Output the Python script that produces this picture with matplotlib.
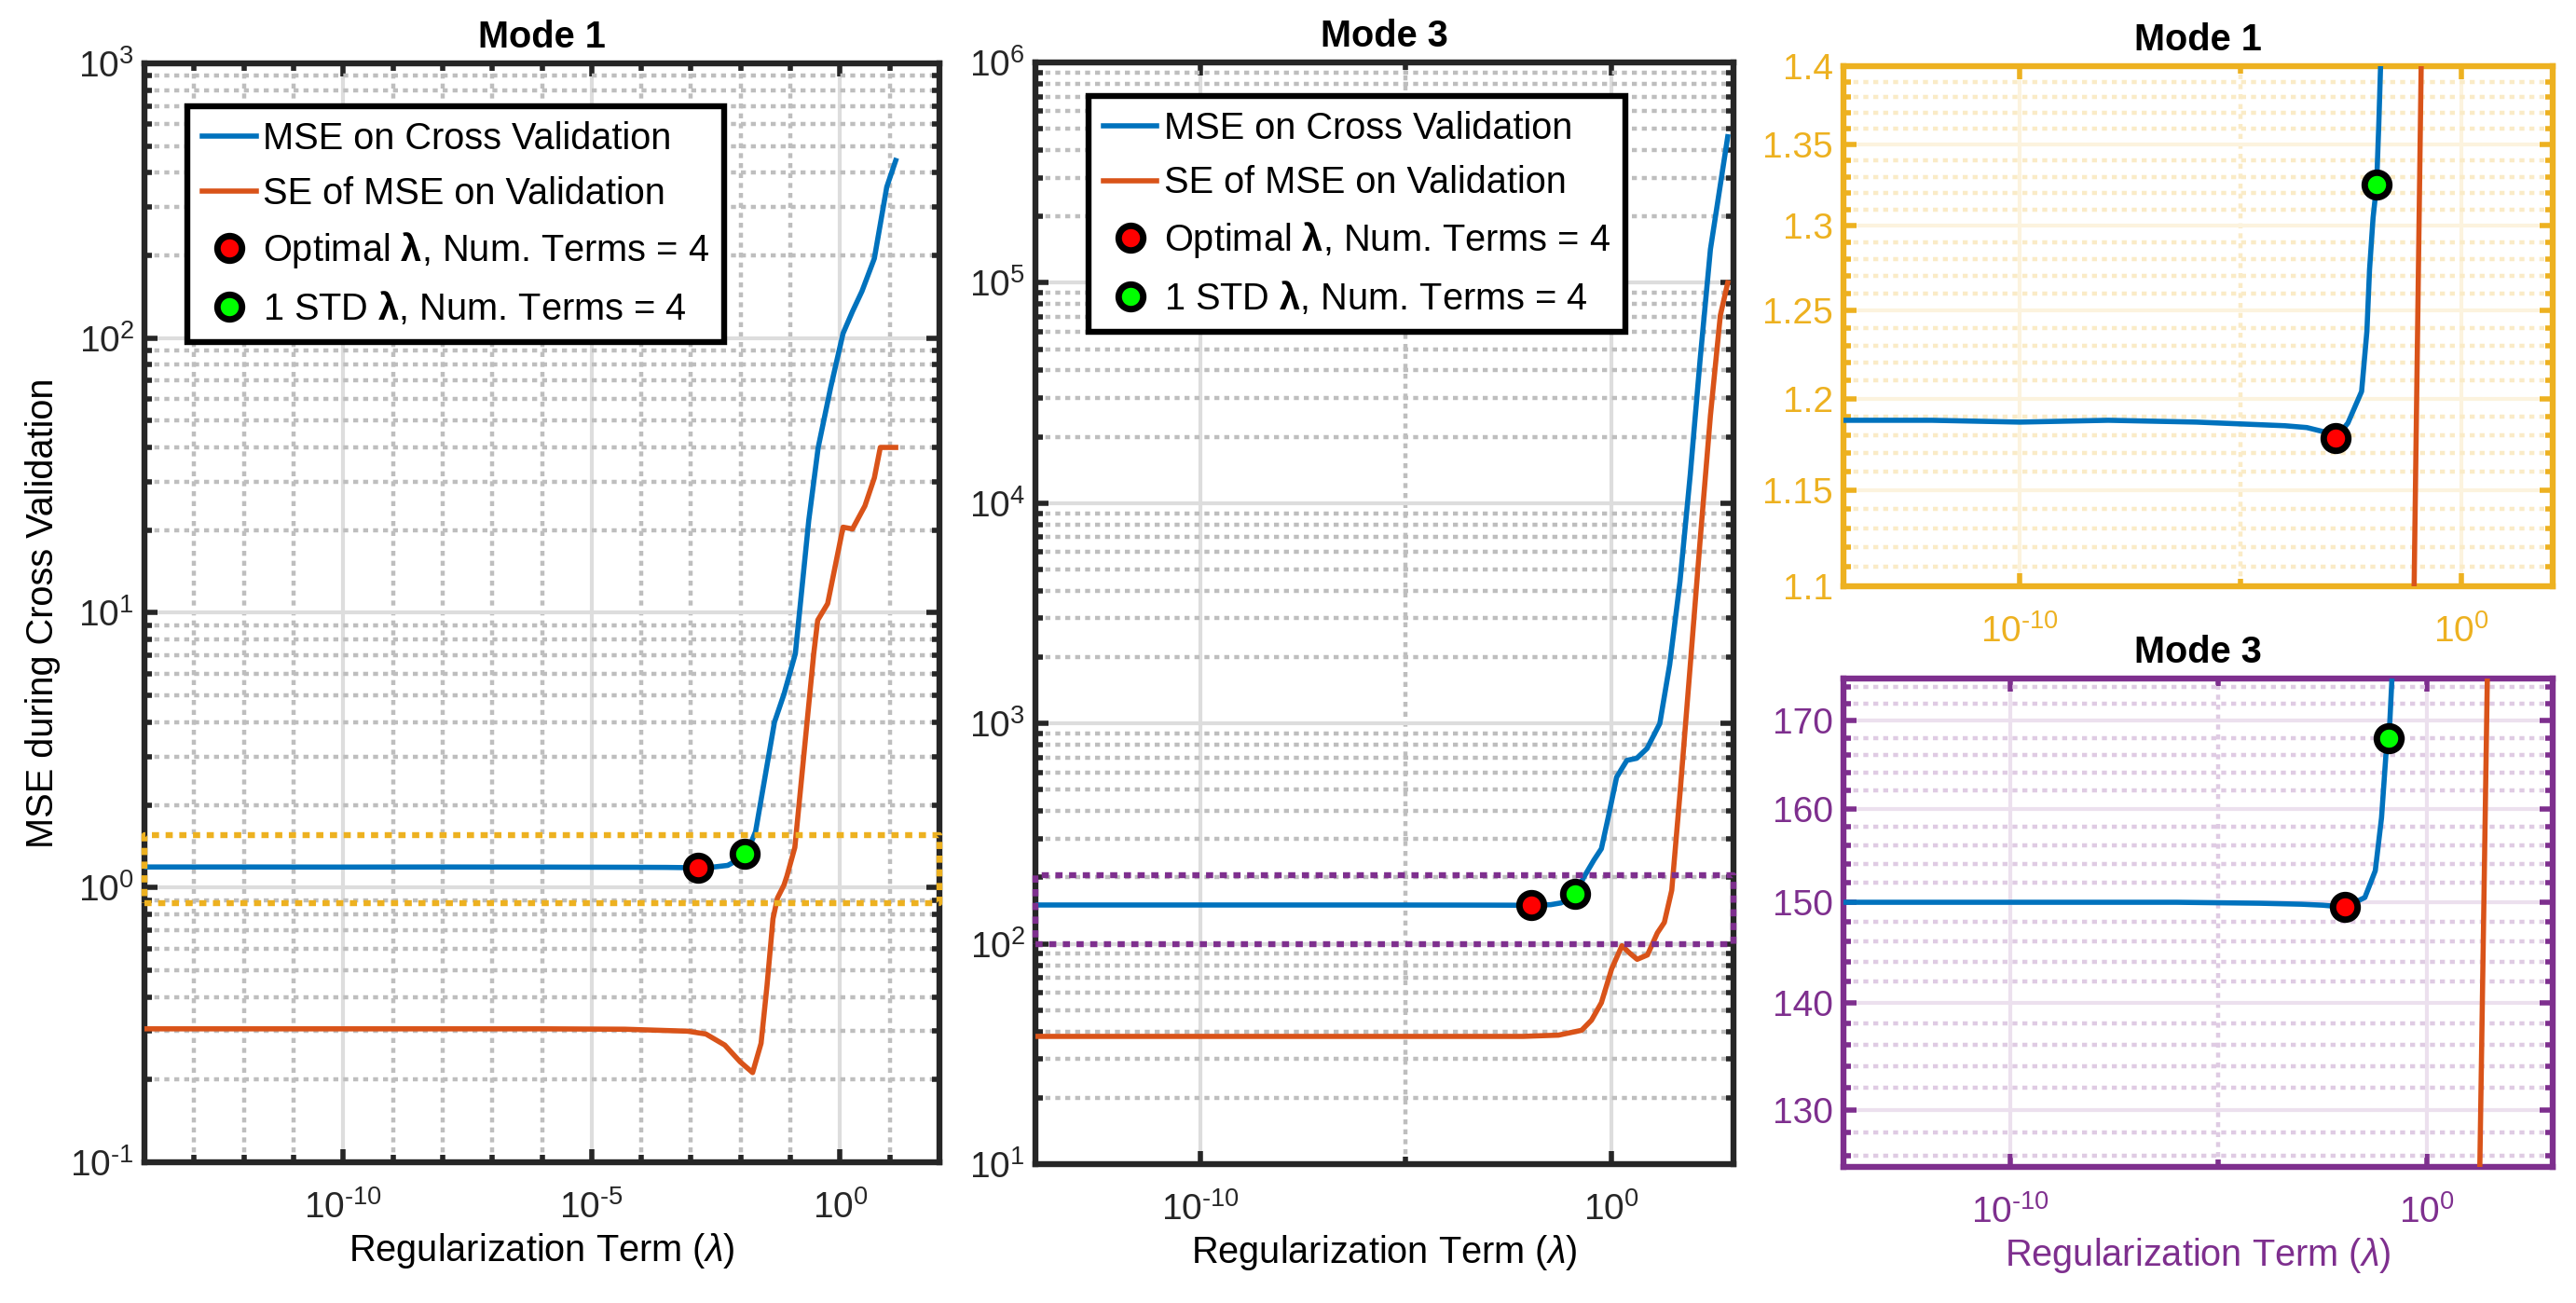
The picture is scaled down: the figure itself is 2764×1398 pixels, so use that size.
import numpy as np
import matplotlib
matplotlib.use("Agg")
import matplotlib.pyplot as plt
from matplotlib.lines import Line2D
from matplotlib.ticker import FixedLocator, NullFormatter, FuncFormatter, LogLocator

plt.rcParams['font.family'] = ['Liberation Sans', 'DejaVu Sans']
plt.rcParams['mathtext.fontset'] = 'custom'
plt.rcParams['mathtext.rm'] = 'Liberation Sans'
plt.rcParams['mathtext.it'] = 'Liberation Sans:italic'
plt.rcParams['mathtext.bf'] = 'Liberation Sans:bold'
plt.rcParams['axes.unicode_minus'] = False

# --- data (lambda given as log10) ---
# Mode 1
m1_mse_loglam = [-14, -12, -10, -8, -6, -5, -4, -3.5, -3.0, -2.85, -2.57, -2.26, -2.14, -2.08,
                 -2.0, -1.92, -1.87, -1.83, -1.70, -1.32, -1.13, -0.90, -0.63, -0.44, -0.19,
                 0.06, 0.25, 0.44, 0.69, 0.94, 1.12]
m1_mse = [1.188, 1.188, 1.187, 1.188, 1.187, 1.186, 1.185, 1.184, 1.181, 1.178, 1.1865, 1.204,
          1.238, 1.274, 1.305, 1.325, 1.363, 1.40, 1.60, 4.0, 5.05, 7.1, 21.7, 40, 66,
          104, 125, 148, 195, 355, 443]
m1_se_loglam = [-14, -6, -4.33, -3.07, -2.70, -2.32, -2.01, -1.76, -1.59, -1.47, -1.35, -1.26,
                -1.13, -1.07, -0.91, -0.53, -0.45, -0.25, 0.06, 0.25, 0.5, 0.69, 0.81, 1.12]
m1_se = [0.306, 0.306, 0.305, 0.300, 0.293, 0.267, 0.232, 0.212, 0.271, 0.44, 0.77, 0.916,
         1.02, 1.1, 1.4, 7.1, 9.4, 10.8, 20.5, 20.2, 24.5, 31, 40, 40]
m1_opt = (-2.85, 1.178)
m1_std = (-1.92, 1.325)

# Mode 3
m3_mse_loglam = [-14, -10, -6, -4, -3, -2.5, -1.95, -1.48, -1.23, -1.08, -0.975, -0.9, -0.83,
                 -0.68, -0.43, -0.25, -0.07, 0.12, 0.37, 0.61, 0.86, 1.17, 1.41, 1.66, 1.91,
                 2.15, 2.40, 2.82]
m3_mse = [150.0, 150.0, 150.0, 149.9, 149.8, 149.7, 149.5, 150.5, 153.3, 159, 166, 168, 175,
          200, 240, 270, 385, 570, 680, 695, 770, 1000, 1850, 4400, 13500,
          45000, 142000, 460000]
m3_se_loglam = [-14, -6, -2.15, -1.29, -0.73, -0.49, -0.25, 0.0, 0.25, 0.43, 0.62, 0.87, 1.11,
                1.28, 1.46, 1.66, 1.91, 2.15, 2.40, 2.64, 2.82]
m3_se = [38, 38, 38, 38.5, 40.5, 45, 54, 77, 98, 91, 85, 89, 112,
         125, 175, 480, 1840, 6800, 25000, 71000, 100000]
m3_opt = (-1.95, 149.5)
m3_std = (-0.9, 168)

# zoom windows and the dotted boxes marking them
m1_zoom_ylim = (1.1, 1.4)
m3_zoom_ylim = (125, 175)
m1_box = (0.88, 1.55)
m3_box = (100, 205)

BLUE = '#0072BD'
ORANGE = '#D95319'
YELLOW = '#EDB120'
PURPLE = '#7E2F8E'
DARK = '#262626'

W, H = 2764, 1398
fig = plt.figure(figsize=(W / 200, H / 200), dpi=200)


def px_axes(x0, y0, x1, y1):
    return fig.add_axes([x0 / W, 1 - y1 / H, (x1 - x0) / W, (y1 - y0) / H])


ax_l = px_axes(155, 68, 1008, 1247)
ax_m = px_axes(1111, 67, 1860, 1249)
ax_t = px_axes(1978, 71, 2739, 629)
ax_b = px_axes(1978, 728, 2739, 1252)


def decade_label(v, pos):
    e = int(round(np.log10(v)))
    if e < 0:
        return r'$\mathdefault{10^{\text{-}%d}}$' % (-e)
    return r'$\mathdefault{10^{%d}}$' % e


def style(ax, color, gmaj, gmin, xmaj, xmin_):
    ax.set_xscale('log')
    ax.set_yscale('log')
    for sp in ax.spines.values():
        sp.set_color(color)
        sp.set_linewidth(2.3)
    ax.xaxis.set_major_locator(FixedLocator([10.0 ** k for k in xmaj]))
    ax.xaxis.set_minor_locator(FixedLocator([10.0 ** k for k in xmin_]))
    ax.xaxis.set_major_formatter(FuncFormatter(decade_label))
    ax.xaxis.set_minor_formatter(NullFormatter())
    ax.tick_params(which='both', direction='in', top=True, right=True,
                   color=color, labelcolor=color, width=2.0, labelsize=14)
    ax.tick_params(which='major', length=5)
    ax.tick_params(which='minor', length=2.8)
    ax.tick_params(axis='x', which='major', pad=11)
    ax.tick_params(axis='y', which='major', pad=4)
    ax.grid(True, which='major', color=gmaj, linewidth=1.5, linestyle='-')
    ax.grid(True, which='minor', color=gmin, linewidth=1.6, linestyle=(0, (1.2, 1.2)))
    ax.set_axisbelow(True)


def draw_curves(ax, mse_x, mse_y, se_x, se_y, opt, std):
    ax.plot(10.0 ** np.array(mse_x), mse_y, color=BLUE, lw=2.0, zorder=3)
    ax.plot(10.0 ** np.array(se_x), se_y, color=ORANGE, lw=2.0, zorder=3)
    ax.plot(10.0 ** opt[0], opt[1], 'o', mfc='#FF0000', mec='k', ms=9.5, mew=2.5, zorder=5)
    ax.plot(10.0 ** std[0], std[1], 'o', mfc='#00FF00', mec='k', ms=9.5, mew=2.5, zorder=5)


def add_legend(ax, anchor):
    handles = [Line2D([], [], color=BLUE, lw=2.0),
               Line2D([], [], color=ORANGE, lw=2.0),
               Line2D([], [], marker='o', ls='none', mfc='#FF0000', mec='k', ms=9.5, mew=2.5),
               Line2D([], [], marker='o', ls='none', mfc='#00FF00', mec='k', ms=9.5, mew=2.5)]
    labels = ['MSE on Cross Validation', 'SE of MSE on Validation',
              r'Optimal $\mathbf{\lambda}$, Num. Terms = 4',
              r'1 STD $\mathbf{\lambda}$, Num. Terms = 4']
    leg = ax.legend(handles, labels, loc='upper left', bbox_to_anchor=anchor,
                    fontsize=14.3, fancybox=False, framealpha=1, edgecolor='k',
                    borderpad=0.4, labelspacing=0.52, handlelength=1.45,
                    handletextpad=0.2, borderaxespad=0, numpoints=1)
    leg.get_frame().set_linewidth(2.3)
    leg.set_zorder(10)


def draw_box(ax, xlim, ylo, yhi, color):
    ax.plot([xlim[0], xlim[1], xlim[1], xlim[0], xlim[0]], [ylo, ylo, yhi, yhi, ylo],
            color=color, lw=2.3, ls=(0, (1.2, 1.1)), zorder=4, clip_on=False)


# ---- left: Mode 1 ----
style(ax_l, DARK, '#DDDDDD', '#BEBEBE', [-10, -5, 0],
      [k for k in range(-14, 3) if k % 5 != 0])
ax_l.yaxis.set_minor_locator(LogLocator(base=10, subs=np.arange(2, 10), numticks=100))
ax_l.yaxis.set_minor_formatter(NullFormatter())
ax_l.yaxis.set_major_formatter(FuncFormatter(decade_label))
draw_curves(ax_l, m1_mse_loglam, m1_mse, m1_se_loglam, m1_se, m1_opt, m1_std)
xl = (1e-14, 1e2)
ax_l.set_xlim(xl)
ax_l.set_ylim(1e-1, 1e3)
draw_box(ax_l, xl, m1_box[0], m1_box[1], YELLOW)
add_legend(ax_l, (0.054, 0.961))
ax_l.set_title('Mode 1', fontweight='bold', fontsize=14.3, pad=6)
ax_l.set_xlabel(r'Regularization Term ($\lambda$)', fontsize=14.3, labelpad=2)
ax_l.set_ylabel('MSE during Cross Validation', fontsize=14.3)
ax_l.yaxis.set_label_coords(-0.106, 0.5)

# ---- middle: Mode 3 ----
style(ax_m, DARK, '#DDDDDD', '#BEBEBE', [-10, 0], [-5])
ax_m.yaxis.set_minor_locator(LogLocator(base=10, subs=np.arange(2, 10), numticks=100))
ax_m.yaxis.set_minor_formatter(NullFormatter())
ax_m.yaxis.set_major_formatter(FuncFormatter(decade_label))
draw_curves(ax_m, m3_mse_loglam, m3_mse, m3_se_loglam, m3_se, m3_opt, m3_std)
xm = (1e-14, 10 ** 2.96)
ax_m.set_xlim(xm)
ax_m.set_ylim(1e1, 1e6)
draw_box(ax_m, xm, m3_box[0], m3_box[1], PURPLE)
add_legend(ax_m, (0.076, 0.9696))
ax_m.set_title('Mode 3', fontweight='bold', fontsize=14.3, pad=6)
ax_m.set_xlabel(r'Regularization Term ($\lambda$)', fontsize=14.3, labelpad=2)

# ---- right top: Mode 1 zoom ----
style(ax_t, YELLOW, '#FCF3DE', '#FAEBC7', [-10, 0], [-5])
m1_yticks = [1.1, 1.15, 1.2, 1.25, 1.3, 1.35, 1.4]
ax_t.yaxis.set_major_locator(FixedLocator(m1_yticks))
ax_t.yaxis.set_major_formatter(FuncFormatter(lambda v, p: '%g' % v))
ax_t.yaxis.set_minor_locator(FixedLocator([v for v in np.round(np.arange(1.1, 1.401, 0.01), 2)
                                           if v not in m1_yticks]))
ax_t.yaxis.set_minor_formatter(NullFormatter())
draw_curves(ax_t, m1_mse_loglam, m1_mse, m1_se_loglam, m1_se, m1_opt, m1_std)
ax_t.set_xlim(1e-14, 10 ** 2.07)
ax_t.set_ylim(m1_zoom_ylim)
ax_t.set_title('Mode 1', fontweight='bold', fontsize=14.3, pad=6)

# ---- right bottom: Mode 3 zoom ----
style(ax_b, PURPLE, '#ECE0EE', '#DFCBE3', [-10, 0], [-5])
m3_yticks = [130, 140, 150, 160, 170]
ax_b.yaxis.set_major_locator(FixedLocator(m3_yticks))
ax_b.yaxis.set_major_formatter(FuncFormatter(lambda v, p: '%g' % v))
ax_b.yaxis.set_minor_locator(FixedLocator([v for v in range(126, 176, 2) if v not in m3_yticks]))
ax_b.yaxis.set_minor_formatter(NullFormatter())
draw_curves(ax_b, m3_mse_loglam, m3_mse, m3_se_loglam, m3_se, m3_opt, m3_std)
ax_b.set_xlim(1e-14, 10 ** 3.03)
ax_b.set_ylim(m3_zoom_ylim)
ax_b.set_title('Mode 3', fontweight='bold', fontsize=14.3, pad=6)
ax_b.set_xlabel(r'Regularization Term ($\lambda$)', fontsize=14.3, labelpad=2, color=PURPLE)

fig.savefig('out.png', dpi=200, facecolor='white')
